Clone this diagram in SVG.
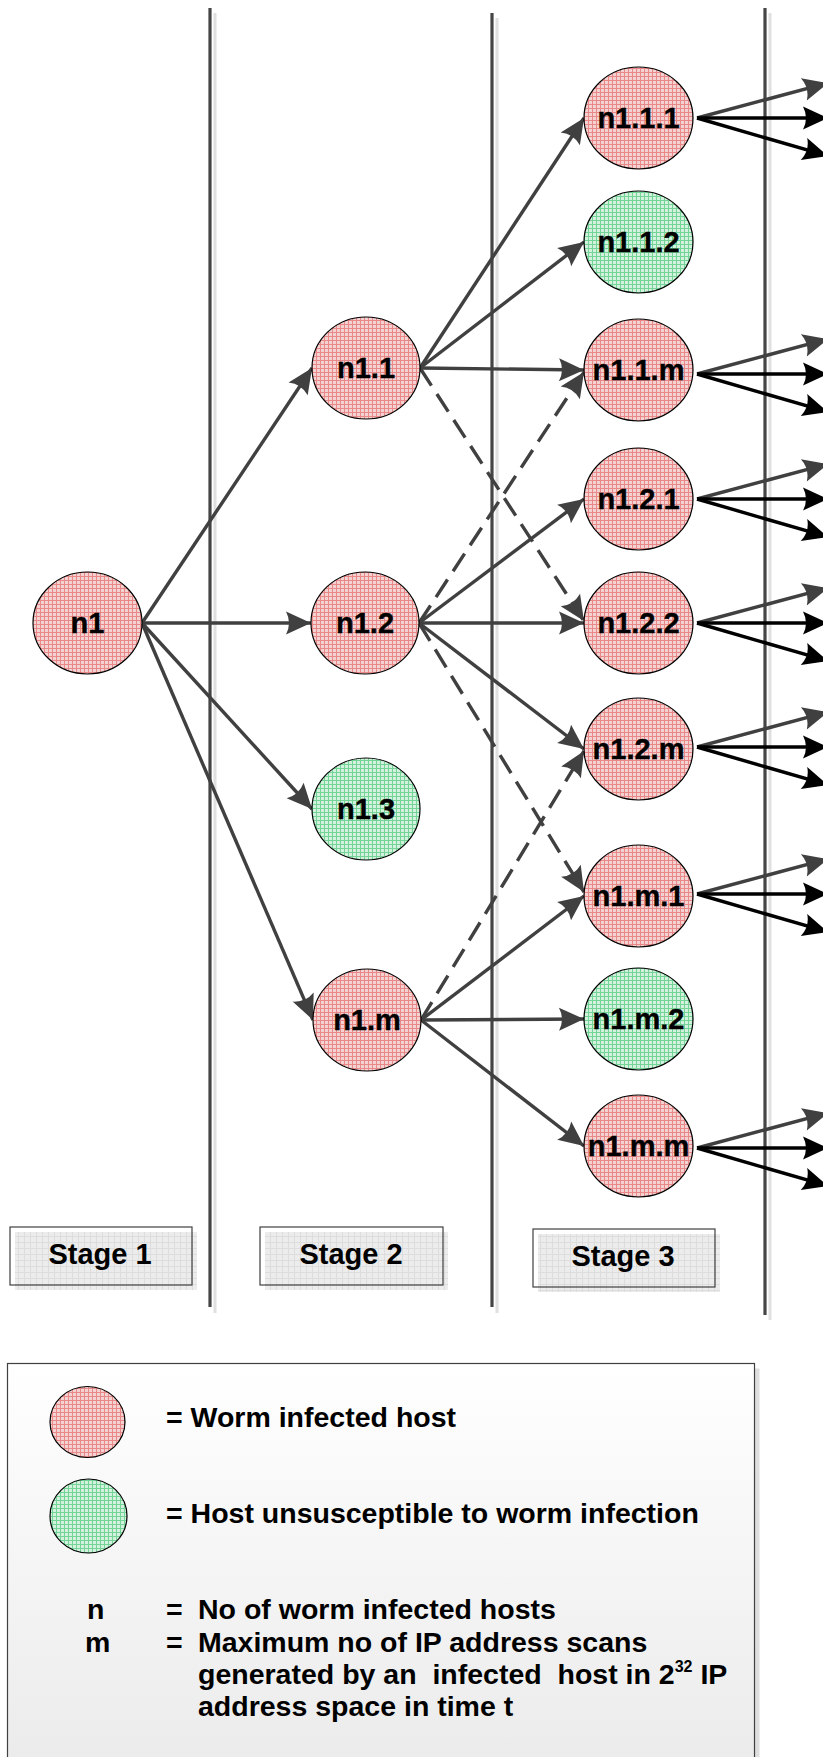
<svg xmlns="http://www.w3.org/2000/svg" width="823" height="1757" viewBox="0 0 823 1757">
<style>
.vl{stroke:#454545;stroke-width:3.2;fill:none}
.vs{stroke:#e0e0e0;stroke-width:3;fill:none}
.e{stroke:#404040;stroke-width:3.4;fill:none;marker-end:url(#ag)}
.d{stroke:#404040;stroke-width:3.4;fill:none;stroke-dasharray:21 10;marker-end:url(#ag)}
.k{stroke:#000;stroke-width:3.4;fill:none;marker-end:url(#ak)}
.red{fill:url(#pRed);stroke:#000;stroke-width:1.2}
.grn{fill:url(#pGrn);stroke:#000;stroke-width:1.2}
.lbl{font-family:"Liberation Sans",Arial,sans-serif;font-weight:bold;font-size:29px;text-anchor:middle;fill:#000;stroke:#000;stroke-width:0.4}
.st{font-family:"Liberation Sans",Arial,sans-serif;font-weight:bold;font-size:29px;text-anchor:middle;fill:#000}
.lg{font-family:"Liberation Sans",Arial,sans-serif;font-weight:bold;font-size:28.5px;fill:#000}
.sb{fill:url(#pGray)}
.so{fill:none;stroke:#404040;stroke-width:1.2}
</style>
<defs>
<pattern id="pRed" width="4" height="4" patternUnits="userSpaceOnUse">
<rect width="4" height="4" fill="#f5d2d2"/>
<path d="M0 0.5H4M0.5 0V4" stroke="#e88888" stroke-width="1"/>
</pattern>
<pattern id="pGrn" width="4" height="4" patternUnits="userSpaceOnUse">
<rect width="4" height="4" fill="#d2f2de"/>
<path d="M0 0.5H4M0.5 0V4" stroke="#74d498" stroke-width="1"/>
</pattern>
<pattern id="pGray" width="6" height="6" patternUnits="userSpaceOnUse">
<rect width="6" height="6" fill="#ececec"/>
<path d="M0 0.5H6M0.5 0V6" stroke="#dddddd" stroke-width="1"/>
</pattern>
<linearGradient id="lgBg" x1="0" y1="0" x2="0" y2="1">
<stop offset="0" stop-color="#ffffff"/>
<stop offset="1" stop-color="#ebebeb"/>
</linearGradient>
<marker id="ag" viewBox="-27 -13 28 26" markerWidth="28" markerHeight="26" refX="0" refY="0" orient="auto" markerUnits="userSpaceOnUse">
<path d="M0,0 L-25,-11.5 Q-19,0 -25,11.5 Z" fill="#404040"/>
</marker>
<marker id="ak" viewBox="-27 -13 28 26" markerWidth="28" markerHeight="26" refX="0" refY="0" orient="auto" markerUnits="userSpaceOnUse">
<path d="M0,0 L-25,-11.5 Q-19,0 -25,11.5 Z" fill="#000"/>
</marker>
</defs>

<g id="stage-lines">
<path class="vs" d="M215,13V1313"/>
<path class="vl" d="M210,8V1307"/>
<path class="vs" d="M497,18V1313"/>
<path class="vl" d="M492,13V1307"/>
<path class="vs" d="M770,13V1320"/>
<path class="vl" d="M765,8V1315"/>
</g>

<g id="stage1">
<rect class="sb" x="15" y="1232" width="182" height="58"/>
<rect class="so" x="10" y="1227" width="182" height="58"/>
<text class="st" x="100" y="1264">Stage 1</text>
</g>
<g id="stage2">
<rect class="sb" x="265" y="1232" width="183" height="58"/>
<rect class="so" x="260" y="1227" width="183" height="58"/>
<text class="st" x="351" y="1264">Stage 2</text>
</g>
<g id="stage3">
<rect class="sb" x="538" y="1234" width="182" height="58"/>
<rect class="so" x="533" y="1229" width="182" height="58"/>
<text class="st" x="623" y="1266">Stage 3</text>
</g>

<g id="connectors">
<path class="e" d="M142,623 L312,368"/>
<path class="e" d="M142,623 L311,623"/>
<path class="e" d="M142,623 L312,809"/>
<path class="e" d="M142,623 L313,1020"/>
<path class="e" d="M420,368 L584,118"/>
<path class="e" d="M420,368 L584,242"/>
<path class="e" d="M420,368 L584,370"/>
<path class="e" d="M419,623 L584,499"/>
<path class="e" d="M419,623 L584,623"/>
<path class="e" d="M419,623 L584,749"/>
<path class="e" d="M421,1020 L584,896"/>
<path class="e" d="M421,1020 L584,1019"/>
<path class="e" d="M421,1020 L584,1146"/>
<path class="d" d="M420,368 L584,621"/>
<path class="d" d="M419,623 L584,372"/>
<path class="d" d="M419,623 L584,892"/>
<path class="d" d="M421,1020 L584,751"/>

<path class="e" d="M697,118 L828,83"/>
<path class="k" d="M697,118 L828,118"/>
<path class="k" d="M697,118 L828,156"/>
<path class="e" d="M697,374 L828,339"/>
<path class="k" d="M697,374 L828,374"/>
<path class="k" d="M697,374 L828,412"/>
<path class="e" d="M697,499 L828,464"/>
<path class="k" d="M697,499 L828,499"/>
<path class="k" d="M697,499 L828,537"/>
<path class="e" d="M697,623 L828,588"/>
<path class="k" d="M697,623 L828,623"/>
<path class="k" d="M697,623 L828,661"/>
<path class="e" d="M697,747 L828,712"/>
<path class="k" d="M697,747 L828,747"/>
<path class="k" d="M697,747 L828,785"/>
<path class="e" d="M697,894 L828,859"/>
<path class="k" d="M697,894 L828,894"/>
<path class="k" d="M697,894 L828,932"/>
<path class="e" d="M697,1148 L828,1113"/>
<path class="k" d="M697,1148 L828,1148"/>
<path class="k" d="M697,1148 L828,1186"/>
</g>

<g id="n1"><ellipse class="red" cx="87.5" cy="623" rx="54.5" ry="51"/><text class="lbl" x="87.5" y="633">n1</text></g>
<g id="n1.1"><ellipse class="red" cx="366" cy="368" rx="54" ry="51"/><text class="lbl" x="366" y="378">n1.1</text></g>
<g id="n1.2"><ellipse class="red" cx="365" cy="623" rx="54" ry="51"/><text class="lbl" x="365" y="633">n1.2</text></g>
<g id="n1.3"><ellipse class="grn" cx="366" cy="809" rx="54" ry="51"/><text class="lbl" x="366" y="819">n1.3</text></g>
<g id="n1.m"><ellipse class="red" cx="367" cy="1020" rx="54" ry="51"/><text class="lbl" x="367" y="1030">n1.m</text></g>

<g id="n1.1.1"><ellipse class="red" cx="638.5" cy="118" rx="54.5" ry="51"/><text class="lbl" x="638.5" y="128">n1.1.1</text></g>
<g id="n1.1.2"><ellipse class="grn" cx="638.5" cy="242" rx="54.5" ry="51"/><text class="lbl" x="638.5" y="252">n1.1.2</text></g>
<g id="n1.1.m"><ellipse class="red" cx="638.5" cy="370" rx="54.5" ry="51"/><text class="lbl" x="638.5" y="380">n1.1.m</text></g>
<g id="n1.2.1"><ellipse class="red" cx="638.5" cy="499" rx="54.5" ry="51"/><text class="lbl" x="638.5" y="509">n1.2.1</text></g>
<g id="n1.2.2"><ellipse class="red" cx="638.5" cy="623" rx="54.5" ry="51"/><text class="lbl" x="638.5" y="633">n1.2.2</text></g>
<g id="n1.2.m"><ellipse class="red" cx="638.5" cy="749" rx="54.5" ry="51"/><text class="lbl" x="638.5" y="759">n1.2.m</text></g>
<g id="n1.m.1"><ellipse class="red" cx="638.5" cy="896" rx="54.5" ry="51"/><text class="lbl" x="638.5" y="906">n1.m.1</text></g>
<g id="n1.m.2"><ellipse class="grn" cx="638.5" cy="1019" rx="54.5" ry="51"/><text class="lbl" x="638.5" y="1029">n1.m.2</text></g>
<g id="n1.m.m"><ellipse class="red" cx="638.5" cy="1146" rx="54.5" ry="51"/><text class="lbl" x="638.5" y="1156">n1.m.m</text></g>

<g id="legend">
<rect x="12.5" y="1368.5" width="747" height="400" fill="#dedede"/>
<rect x="7.5" y="1363.5" width="747" height="400" fill="url(#lgBg)" stroke="#404040" stroke-width="1.2"/>
<ellipse class="red" cx="87.5" cy="1422" rx="37.5" ry="35.5"/>
<ellipse class="grn" cx="88.5" cy="1516" rx="38.5" ry="37"/>
<text class="lg" x="166" y="1427">= Worm infected host</text>
<text class="lg" x="166" y="1523">= Host unsusceptible to worm infection</text>
<text class="lg" x="87" y="1619">n</text>
<text class="lg" x="166" y="1619">=</text>
<text class="lg" x="198" y="1619">No of worm infected hosts</text>
<text class="lg" x="85" y="1652">m</text>
<text class="lg" x="166" y="1652">=</text>
<text class="lg" x="198" y="1652">Maximum no of IP address scans</text>
<text class="lg" x="198" y="1684" xml:space="preserve">generated by an  infected  host in 2<tspan font-size="16" dy="-12">32</tspan><tspan dy="12"> IP</tspan></text>
<text class="lg" x="198" y="1716">address space in time t</text>
</g>
</svg>
